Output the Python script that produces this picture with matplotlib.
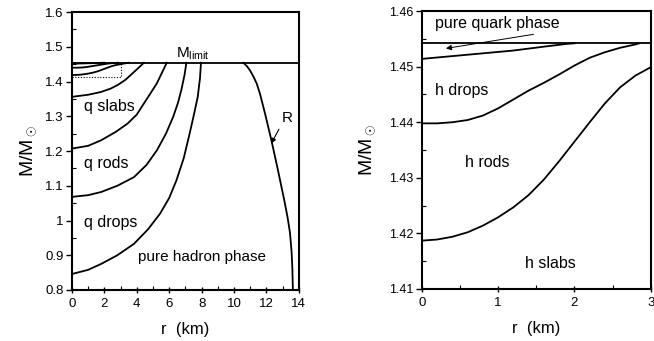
import matplotlib.pyplot as plt
from matplotlib.ticker import MultipleLocator, FixedFormatter, FixedLocator

plt.rcParams['font.family'] = ['Liberation Sans', 'DejaVu Sans']
plt.rcParams['mathtext.fontset'] = 'custom'
plt.rcParams['mathtext.rm'] = 'Liberation Sans'
plt.rcParams['mathtext.it'] = 'Liberation Sans'

# limiting mass
m_limit = 1.4542

# left panel: phase boundaries, r (km) vs M/Msun
r_qdrops = [0, 1, 1.8, 2.8, 3.83, 4.7, 5.44, 6.0, 6.45, 6.9, 7.26, 7.55, 7.76, 7.9, 7.96]
m_qdrops = [0.846, 0.858, 0.875, 0.9, 0.933, 0.975, 1.02, 1.065, 1.116, 1.18, 1.25, 1.31, 1.356, 1.41, 1.454]
r_qrods = [0, 1, 1.8, 2.8, 3.83, 4.6, 5.24, 5.8, 6.25, 6.55, 6.75, 6.95, 7.06]
m_qrods = [1.068, 1.073, 1.082, 1.1, 1.125, 1.16, 1.202, 1.25, 1.299, 1.34, 1.376, 1.42, 1.454]
r_qslabs = [0, 1, 1.8, 2.7, 3.43, 4.0, 4.44, 4.9, 5.24, 5.6, 5.85]
m_qslabs = [1.207, 1.215, 1.231, 1.255, 1.279, 1.305, 1.337, 1.37, 1.395, 1.43, 1.454]
r_hslabs = [0, 1, 1.8, 2.4, 2.82, 3.3, 3.63, 4.05, 4.44]
m_hslabs = [1.356, 1.362, 1.37, 1.38, 1.39, 1.405, 1.419, 1.437, 1.454]
r_radius = [10.58, 10.8, 11.0, 11.2, 11.4, 11.6, 11.9, 12.3, 12.7, 13.1, 13.3, 13.45, 13.55, 13.6, 13.63]
m_radius = [1.454, 1.444, 1.431, 1.414, 1.394, 1.365, 1.31, 1.232, 1.147, 1.058, 1.01, 0.965, 0.91, 0.86, 0.8]

# right panel (zoom of the corner): h rods / h drops / pure quark boundaries
r_hrods = [0, 0.2, 0.4, 0.6, 0.8, 1.0, 1.2, 1.4, 1.6, 1.8, 2.0, 2.2, 2.4, 2.6, 2.8, 3.0, 3.2, 3.4, 3.5]
m_hrods = [1.4187, 1.4189, 1.4194, 1.4202, 1.4214, 1.4229, 1.4247, 1.4269, 1.4297, 1.4330,
           1.4365, 1.4400, 1.4434, 1.4463, 1.4484, 1.4499, 1.4518, 1.4535, 1.4542]
r_hdrops = [0, 0.2, 0.4, 0.6, 0.8, 1.0, 1.2, 1.4, 1.6, 1.8, 2.0, 2.2, 2.4, 2.6, 2.8, 2.85]
m_hdrops = [1.4398, 1.4398, 1.4400, 1.4404, 1.4412, 1.4425, 1.4441, 1.4457, 1.4471, 1.4486,
            1.4502, 1.4516, 1.4526, 1.4534, 1.4540, 1.4542]
r_quark = [0, 0.4, 0.8, 1.2, 1.6, 1.9, 2.0]
m_quark = [1.4514, 1.4519, 1.4524, 1.4529, 1.4536, 1.4541, 1.4542]

lw = 1.3
fig = plt.figure(figsize=(6.54, 3.41), dpi=100)

# ---- left panel
ax1 = fig.add_axes([0.110, 0.1496, 0.347, 0.815])
for r, m in [(r_qdrops, m_qdrops), (r_qrods, m_qrods), (r_qslabs, m_qslabs),
             (r_hslabs, m_hslabs), (r_hrods, m_hrods), (r_hdrops, m_hdrops),
             (r_quark, m_quark), (r_radius, m_radius)]:
    ax1.plot(r, m, color='black', lw=lw, solid_joinstyle='round')
ax1.axhline(m_limit, color='black', lw=lw)
ax1.plot([0, 3, 3], [1.412, 1.412, m_limit], color='black', lw=0.8, ls=(0, (1, 1.5)))
ax1.set_xlim(0, 14)
ax1.set_ylim(0.8, 1.6)
ax1.xaxis.set_major_locator(MultipleLocator(2))
ax1.xaxis.set_minor_locator(MultipleLocator(1))
ax1.yaxis.set_major_locator(FixedLocator([0.8, 0.9, 1.0, 1.1, 1.2, 1.3, 1.4, 1.5, 1.6]))
ax1.yaxis.set_major_formatter(FixedFormatter(['0.8', '0.9', '1', '1.1', '1.2', '1.3', '1.4', '1.5', '1.6']))
ax1.yaxis.set_minor_locator(MultipleLocator(0.05))

ax1.text(6.45, 1.47, r'M$_{\rm limit}$', fontsize=11)
ax1.text(0.75, 1.328, 'q slabs', fontsize=11.5, va='center')
ax1.text(0.75, 1.164, 'q rods', fontsize=11.5, va='center')
ax1.text(0.75, 0.995, 'q drops', fontsize=11.5, va='center')
ax1.text(4.05, 0.894, 'pure hadron phase', fontsize=11, va='center')
ax1.text(12.95, 1.296, 'R', fontsize=11, va='center')
ax1.annotate('', xy=(12.22, 1.215), xytext=(12.85, 1.27),
             arrowprops=dict(arrowstyle='-|>', color='black', lw=0.8, mutation_scale=7))
ax1.set_xlabel('r  (km)', fontsize=12, labelpad=9)
ax1.set_ylabel(r'M/M$_\odot$', fontsize=14, labelpad=5)

# ---- right panel
ax2 = fig.add_axes([0.645, 0.1525, 0.350, 0.815])
for r, m in [(r_hrods, m_hrods), (r_hdrops, m_hdrops), (r_quark, m_quark)]:
    ax2.plot(r, m, color='black', lw=lw, solid_joinstyle='round')
ax2.axhline(m_limit, color='black', lw=lw)
ax2.set_xlim(0, 3)
ax2.set_ylim(1.41, 1.46)
ax2.xaxis.set_major_locator(MultipleLocator(1))
ax2.xaxis.set_minor_locator(MultipleLocator(0.5))
ax2.yaxis.set_major_locator(FixedLocator([1.41, 1.42, 1.43, 1.44, 1.45, 1.46]))
ax2.yaxis.set_major_formatter(FixedFormatter(['1.41', '1.42', '1.43', '1.44', '1.45', '1.46']))
ax2.yaxis.set_minor_locator(MultipleLocator(0.005))

ax2.text(0.17, 1.4577, 'pure quark phase', fontsize=11.5, va='center')
ax2.annotate('', xy=(0.28, 1.4532), xytext=(1.5, 1.4559),
             arrowprops=dict(arrowstyle='-|>', color='black', lw=0.7, mutation_scale=8))
ax2.text(0.17, 1.4458, 'h drops', fontsize=11.5, va='center')
ax2.text(0.57, 1.4327, 'h rods', fontsize=11.5, va='center')
ax2.text(1.35, 1.4146, 'h slabs', fontsize=11.5, va='center')
ax2.set_xlabel('r  (km)', fontsize=12, labelpad=9)
ax2.set_ylabel(r'M/M$_\odot$', fontsize=14, labelpad=9)

for ax, yfs, xfs in [(ax1, 9.5, 9.5), (ax2, 9, 9.5)]:
    for s in ax.spines.values():
        s.set_linewidth(1.5)
    ax.tick_params(axis='y', which='major', direction='out', length=4, width=1, labelsize=yfs, pad=2)
    ax.tick_params(axis='y', which='minor', direction='in', length=3, width=0.8)
    ax.tick_params(axis='x', which='major', direction='inout', length=5, width=1, labelsize=xfs, pad=3)
    ax.tick_params(axis='x', which='minor', direction='in', length=3, width=0.8)

fig.savefig('out.png', dpi=100)
